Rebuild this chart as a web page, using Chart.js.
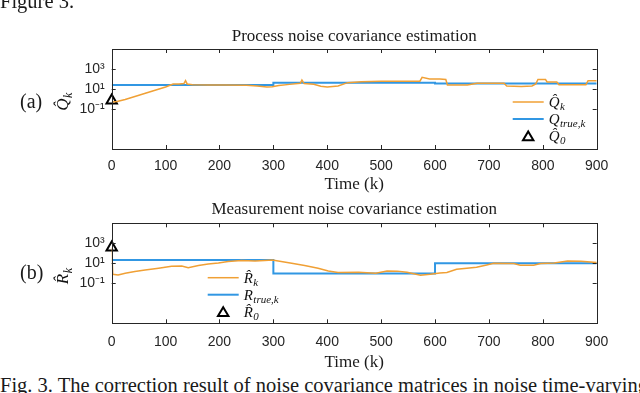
<!DOCTYPE html>
<html>
<head>
<meta charset="utf-8">
<script src="https://cdn.jsdelivr.net/npm/chart.js@4.4.0/dist/chart.umd.min.js"></script>
<style>
  html, body { margin: 0; padding: 0; background: #fff; }
  body { width: 640px; height: 393px; position: relative; overflow: hidden; font-family: "Liberation Serif", "Times New Roman", serif; color: #1a1a1a; }
  canvas { position: absolute; left: 0; }
  .txt { position: absolute; white-space: nowrap; line-height: 18px; }
</style>
</head>
<body>
<canvas id="chart-q" width="640" height="196" style="top:0"></canvas>
<canvas id="chart-r" width="640" height="178" style="top:196px"></canvas>
<div class="txt" style="left:0;top:-8px;font-size:20.5px">Figure 3.</div>
<div class="txt" style="left:20px;top:92px;font-size:20px">(a)</div>
<div class="txt" style="left:20px;top:263px;font-size:20px">(b)</div>
<div class="txt" style="left:0;top:376px;font-size:20.5px">Fig. 3. The correction result of noise covariance matrices in noise time-varying</div>
<script>
// x ticks / y ticks
const X_TICKS = [0, 100, 200, 300, 400, 500, 600, 700, 800, 900];
const Y_TICKS = [0.1, 10, 1000];
const Y_TICK_LABELS = ["10\u207B\u00B9", "10\u00B9", "10\u00B3"];

// (a) process noise: estimate Q_hat
const qHatK = [0, 10, 25, 40, 55, 70, 85, 100, 114, 125, 134, 137, 140, 150, 180, 210, 250, 270, 288, 298,
  310, 330, 350, 353, 357, 375, 388, 400, 420, 438, 463, 500, 540, 572, 576, 590, 609, 620, 623, 660,
  678, 728, 733, 760, 780, 787, 791, 805, 808, 826, 830, 880, 884, 900];
const qHatV = [0.5, 0.56, 0.9, 1.6, 2.8, 5, 9, 16, 32, 32, 35, 68, 32, 27, 25, 25, 24, 20, 16, 17,
  22, 29, 37, 80, 35, 30, 19, 16, 20, 43, 54, 59, 59, 60, 145, 100, 100, 89, 25, 25,
  37, 37, 20, 18, 20, 32, 89, 89, 50, 50, 27, 27, 68, 68];
// true Q (piecewise constant)
const qTrueK = [0, 300, 300, 600, 600, 900];
const qTrueV = [25, 25, 43, 43, 35, 35];
const q0 = 0.72;

// (b) measurement noise: estimate R_hat
const rHatK = [0, 2, 12, 25, 43, 62, 87, 111, 130, 142, 161, 179, 198, 216, 241, 266, 284, 298, 309, 334,
  358, 383, 402, 420, 458, 490, 511, 530, 548, 573, 591, 609, 622, 640, 659, 677, 696, 709, 746, 758,
  783, 796, 821, 846, 871, 900];
const rHatV = [370, 0.8, 0.68, 1, 1.5, 2.1, 3.2, 5, 5.4, 3.7, 5.9, 8.5, 10.7, 15, 19, 17, 19, 21, 17, 10,
  5.9, 3.2, 1.7, 1.2, 1.25, 1, 1.7, 1.65, 1.25, 0.63, 0.8, 1.1, 1.2, 2.5, 3.2, 4, 6.8, 10, 9.3, 6.3,
  6.3, 9.3, 10.7, 17, 16, 11.7];
const rTrueK = [0, 300, 300, 600, 600, 900];
const rTrueV = [21, 21, 0.95, 0.95, 10, 10];
const r0 = 370;

const ORANGE = "#F0A035";
const BLUE = "#3197E3";
const AXIS = "#262626";
const SERIF = '"Liberation Serif", "Times New Roman", serif';
const SANS = '"Liberation Sans", Arial, sans-serif';

function toPts(ks, vs) {
  return ks.map((k, i) => ({ x: k, y: vs[i] }));
}

// italic letter with hat + subscript, y is baseline
function drawMath(ctx, x, y, main, sub, size, center) {
  const mainFont = `italic ${size}px ${SERIF}`;
  const subFont = `italic ${Math.round(size * 0.72)}px ${SERIF}`;
  ctx.font = mainFont;
  const w1 = ctx.measureText(main).width;
  ctx.font = subFont;
  const w2 = ctx.measureText(sub).width;
  const x0 = center ? x - (w1 + w2) / 2 : x;
  ctx.textAlign = "left";
  ctx.textBaseline = "alphabetic";
  ctx.fillStyle = "#111";
  ctx.font = mainFont;
  ctx.fillText(main, x0, y);
  ctx.font = subFont;
  ctx.fillText(sub, x0 + w1 + 0.5, y + size * 0.22);
}

function drawTriangle(ctx, cx, cy, r) {
  ctx.beginPath();
  ctx.moveTo(cx, cy - r);
  ctx.lineTo(cx + r * 0.95, cy + r * 0.6);
  ctx.lineTo(cx - r * 0.95, cy + r * 0.6);
  ctx.closePath();
  ctx.lineWidth = 2;
  ctx.strokeStyle = "#000";
  ctx.stroke();
}

// matlab style box with inward ticks on all sides
const boxPlugin = {
  id: "matlabBox",
  beforeDatasetsDraw(chart) {
    const { ctx, chartArea: a } = chart;
    ctx.save();
    ctx.fillStyle = "#fff";
    ctx.fillRect(a.left, a.top, a.right - a.left, a.bottom - a.top);
    ctx.restore();
  },
  afterDraw(chart) {
    const { ctx, chartArea: a, scales } = chart;
    ctx.save();
    ctx.strokeStyle = AXIS;
    ctx.lineWidth = 1;
    ctx.strokeRect(Math.round(a.left) + 0.5, Math.round(a.top) + 0.5,
      Math.round(a.right - a.left), Math.round(a.bottom - a.top));
    const tl = 4;
    ctx.beginPath();
    X_TICKS.forEach((v) => {
      const px = Math.round(scales.x.getPixelForValue(v)) + 0.5;
      ctx.moveTo(px, a.bottom); ctx.lineTo(px, a.bottom - tl);
      ctx.moveTo(px, a.top); ctx.lineTo(px, a.top + tl);
    });
    Y_TICKS.forEach((v) => {
      const py = Math.round(scales.y.getPixelForValue(v)) + 0.5;
      ctx.moveTo(a.left, py); ctx.lineTo(a.left + tl, py);
      ctx.moveTo(a.right, py); ctx.lineTo(a.right - tl, py);
    });
    ctx.stroke();

    const o = chart.options.plugins.matlabBox;
    // y axis label, rotated
    ctx.save();
    ctx.translate(o.yLabelX, (a.top + a.bottom) / 2 + 3);
    ctx.rotate(-Math.PI / 2);
    drawMath(ctx, 0, 6, o.yLabel[0], o.yLabel[1], 17, true);
    ctx.restore();

    // legend from datasets
    const lx = o.legend.fromRight ? a.right - o.legend.x : a.left + o.legend.x;
    chart.data.datasets.forEach((ds, i) => {
      const cy = a.top + o.legend.y + i * o.legend.rowH;
      if (ds.showLine === false) {
        drawTriangle(ctx, lx + 15.5, cy + 1, 5.5);
      } else {
        ctx.beginPath();
        ctx.strokeStyle = ds.borderColor;
        ctx.lineWidth = ds.borderWidth;
        ctx.moveTo(lx, cy); ctx.lineTo(lx + 31, cy);
        ctx.stroke();
      }
      drawMath(ctx, lx + 36, cy + 5, ds.math[0], ds.math[1], 15, false);
    });
    ctx.restore();
  },
};

function makePanel(canvasId, p) {
  const canvas = document.getElementById(canvasId);
  const ctx = canvas.getContext("2d");
  return new Chart(ctx, {
    type: "line",
    data: {
      datasets: [
        {
          label: p.names[0],
          math: p.math[0],
          data: toPts(p.estK, p.estV),
          borderColor: ORANGE,
          borderWidth: 1.5,
          pointRadius: 0,
          tension: 0,
        },
        {
          label: p.names[1],
          math: p.math[1],
          data: toPts(p.trueK, p.trueV),
          borderColor: BLUE,
          borderWidth: 2,
          pointRadius: 0,
          tension: 0,
        },
        {
          label: p.names[2],
          math: p.math[2],
          data: [{ x: 0, y: p.init }],
          showLine: false,
          pointStyle: "triangle",
          pointRadius: 6,
          pointBorderWidth: 2,
          pointBorderColor: "#000",
          pointBackgroundColor: "rgba(0,0,0,0)",
          clip: false,
        },
      ],
    },
    plugins: [boxPlugin],
    options: {
      responsive: false,
      animation: false,
      layout: { padding: { left: 0, right: 43.3, top: 0, bottom: 0 } },
      plugins: {
        legend: { display: false },
        tooltip: { enabled: false },
        title: {
          display: true,
          fullSize: false,
          text: p.title,
          color: "#1a1a1a",
          font: { family: SERIF, size: 17, weight: "normal" },
          padding: p.titlePad,
        },
        matlabBox: {
          yLabel: p.yLabel,
          yLabelX: 62,
          legend: p.legend,
        },
      },
      scales: {
        x: {
          type: "linear",
          min: 0,
          max: 900,
          afterBuildTicks: (s) => { s.ticks = X_TICKS.map((v) => ({ value: v })); },
          afterFit: (s) => { s.height = p.xAxisH; },
          grid: { display: false, drawTicks: false },
          border: { display: false },
          ticks: {
            autoSkip: false,
            maxRotation: 0,
            padding: p.xTickPad,
            color: AXIS,
            font: { family: SANS, size: 14 },
          },
          title: {
            display: true,
            text: "Time (k)",
            color: "#1a1a1a",
            font: { family: SERIF, size: 17 },
            padding: { top: 0, bottom: 1 },
          },
        },
        y: {
          type: "logarithmic",
          min: 1e-5,
          max: 1e5,
          afterBuildTicks: (s) => { s.ticks = Y_TICKS.map((v) => ({ value: v })); },
          afterFit: (s) => { s.width = 111.7; },
          grid: { display: false, drawTicks: false },
          border: { display: false },
          ticks: {
            padding: 7,
            color: AXIS,
            font: { family: SANS, size: 14 },
            callback: (v) => {
              const i = Y_TICKS.indexOf(v);
              return i >= 0 ? Y_TICK_LABELS[i] : "";
            },
          },
        },
      },
    },
  });
}

makePanel("chart-q", {
  title: "Process noise covariance estimation",
  titlePad: { top: 26.5, bottom: 2.1 },
  xAxisH: 47,
  xTickPad: 9,
  names: ["Q_hat_k", "Q_true,k", "Q_hat_0"],
  math: [["Q\u0302", "k"], ["Q", "true,k"], ["Q\u0302", "0"]],
  yLabel: ["Q\u0302", "k"],
  estK: qHatK, estV: qHatV,
  trueK: qTrueK, trueV: qTrueV,
  init: q0,
  legend: { fromRight: true, x: 84, y: 53, rowH: 17 },
});

makePanel("chart-r", {
  title: "Measurement noise covariance estimation",
  titlePad: { top: 3.8, bottom: 3.1 },
  xAxisH: 50.7,
  xTickPad: 10,
  names: ["R_hat_k", "R_true,k", "R_hat_0"],
  math: [["R\u0302", "k"], ["R", "true,k"], ["R\u0302", "0"]],
  yLabel: ["R\u0302", "k"],
  estK: rHatK, estV: rHatV,
  trueK: rTrueK, trueV: rTrueV,
  init: r0,
  legend: { fromRight: false, x: 96, y: 54.4, rowH: 17 },
});
</script>
</body>
</html>
